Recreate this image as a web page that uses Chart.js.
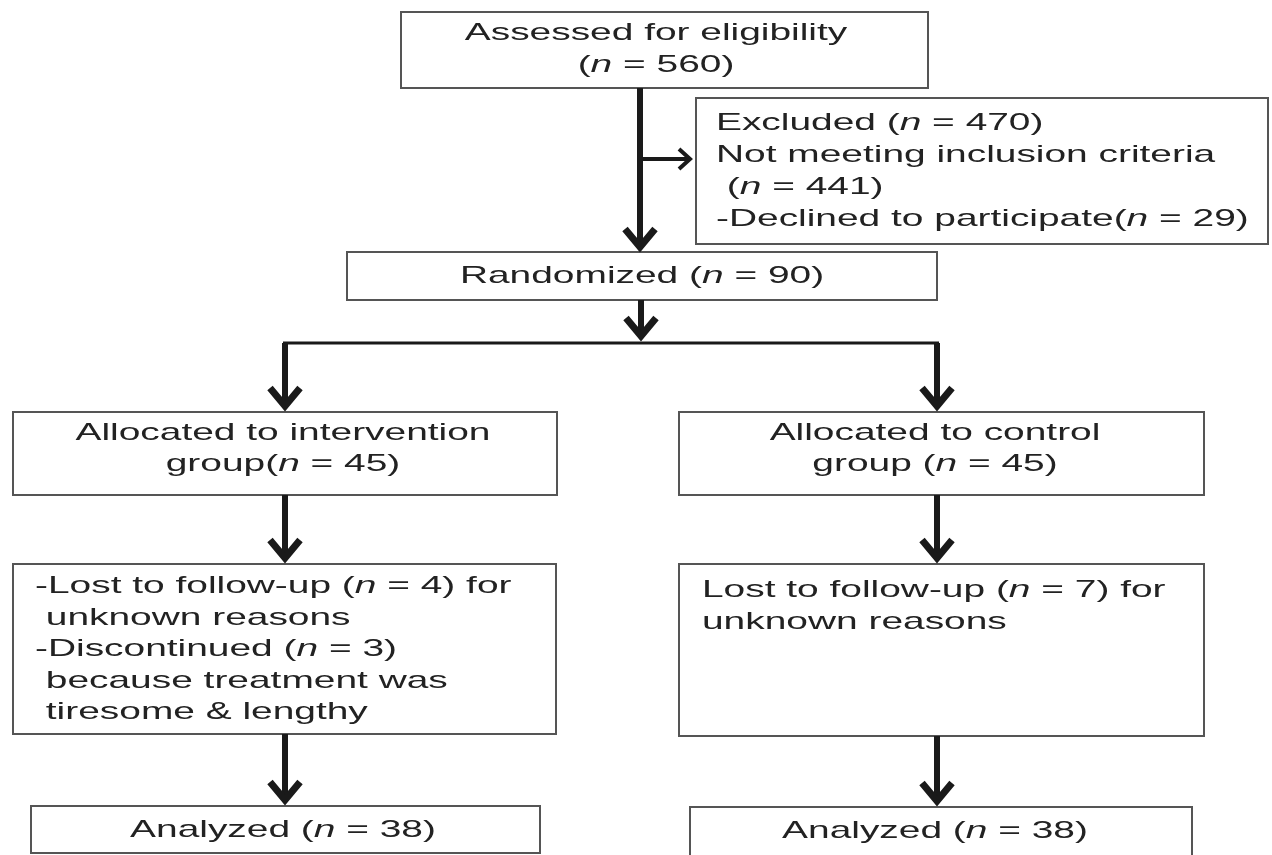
<!DOCTYPE html>
<html lang="en">
<head>
  <meta charset="UTF-8" />
  <title>Participant flow diagram</title>
  <script src="https://cdn.jsdelivr.net/npm/chart.js"></script>
  <style>
    html, body { margin: 0; padding: 0; background: #fff; }
    #flow { display: block; }
  </style>
</head>
<body>
  <canvas id="flow" width="1272" height="855"></canvas>

  <script>
    // --- data: participant counts at each stage ---
    const assessed = 560;
    const excluded = [470, 441, 29];          // total, not meeting criteria, declined
    const randomized = 90;
    const allocated = [45, 45];               // intervention, control
    const lostIntervention = [4, 3];          // lost to follow-up, discontinued
    const lostControl = [7];
    const analyzed = [38, 38];

    // text of every box, one array of lines per box
    const boxText = [
      ['Assessed for eligibility', `(n = ${assessed})`],
      [`Excluded (n = ${excluded[0]})`, 'Not meeting inclusion criteria', ` (n = ${excluded[1]})`, `-Declined to participate(n = ${excluded[2]})`],
      [`Randomized (n = ${randomized})`],
      ['Allocated to intervention', `group(n = ${allocated[0]})`],
      ['Allocated to control', `group (n = ${allocated[1]})`],
      [`-Lost to follow-up (n = ${lostIntervention[0]}) for`, ' unknown reasons', `-Discontinued (n = ${lostIntervention[1]})`, ' because treatment was', ' tiresome & lengthy'],
      [`Lost to follow-up (n = ${lostControl[0]}) for`, 'unknown reasons'],
      [`Analyzed (n = ${analyzed[0]})`],
      [`Analyzed (n = ${analyzed[1]})`]
    ];

    // --- layout (axis units = page pixels) ---
    const boxLayout = [
      { x0: 401, x1: 928,  y0: 12,  y1: 88,  align: 'center', tx: 656, ty: 40,  gap: 32 },
      { x0: 696, x1: 1268, y0: 98,  y1: 244, align: 'left',   tx: 716, ty: 130, gap: 32 },
      { x0: 347, x1: 937,  y0: 252, y1: 300, align: 'center', tx: 642, ty: 283, gap: 32 },
      { x0: 13,  x1: 557,  y0: 412, y1: 495, align: 'center', tx: 283, ty: 440, gap: 31 },
      { x0: 679, x1: 1204, y0: 412, y1: 495, align: 'center', tx: 935, ty: 440, gap: 31 },
      { x0: 13,  x1: 556,  y0: 564, y1: 734, align: 'left',   tx: 35,  ty: 593, gap: 31.5 },
      { x0: 679, x1: 1204, y0: 564, y1: 736, align: 'left',   tx: 702, ty: 597, gap: 31.5 },
      { x0: 31,  x1: 540,  y0: 806, y1: 853, align: 'center', tx: 283, ty: 837, gap: 32 },
      { x0: 690, x1: 1192, y0: 807, y1: 870, align: 'center', tx: 935, ty: 838, gap: 32 }
    ];

    const connectors = [
      { from: [283, 343], to: [939, 343], w: 3 }
    ];

    const arrows = [
      { from: [640, 88],  to: [640, 251], w: 6, head: 'big' },
      { from: [640, 159], to: [694, 159], w: 4, head: 'small' },
      { from: [641, 300], to: [641, 340], w: 6, head: 'big' },
      { from: [285, 343], to: [285, 410], w: 6, head: 'big' },
      { from: [937, 343], to: [937, 410], w: 6, head: 'big' },
      { from: [285, 495], to: [285, 562], w: 6, head: 'big' },
      { from: [937, 495], to: [937, 562], w: 6, head: 'big' },
      { from: [285, 734], to: [285, 804], w: 6, head: 'big' },
      { from: [937, 736], to: [937, 805], w: 6, head: 'big' }
    ];

    const FONT_SIZE = 24;
    const FONT_FAMILY = '"Liberation Sans", Arial, sans-serif';
    const STRETCH = 1.62;   // the original lettering is wide
    const TEXT_COLOR = '#222';
    const BOX_COLOR = '#555';

    // split a line so that the "n" after "(" is italic
    function segments(line) {
      const parts = [];
      const bits = line.split('(n');
      bits.forEach((b, i) => {
        if (i > 0) {
          parts.push({ t: '(', it: false });
          parts.push({ t: 'n', it: true });
        }
        if (b) parts.push({ t: b, it: false });
      });
      return parts;
    }

    function fontFor(it) {
      return (it ? 'italic ' : '') + FONT_SIZE + 'px ' + FONT_FAMILY;
    }

    function drawLine(ctx, line, x, y, align) {
      const segs = segments(line);
      let w = 0;
      segs.forEach(s => { ctx.font = fontFor(s.it); s.w = ctx.measureText(s.t).width; w += s.w; });
      const start = align === 'center' ? x - (w * STRETCH) / 2 : x;
      ctx.save();
      ctx.translate(start, y);
      ctx.scale(STRETCH, 1);
      let cx = 0;
      segs.forEach(s => {
        ctx.font = fontFor(s.it);
        ctx.fillText(s.t, cx, 0);
        cx += s.w;
      });
      ctx.restore();
    }

    function drawArrow(ctx, x1, y1, x2, y2, w, head) {
      const len = head === 'big' ? 19 : 12;
      const half = head === 'big' ? 15 : 10;
      const dx = x2 - x1, dy = y2 - y1;
      const d = Math.hypot(dx, dy);
      const ux = dx / d, uy = dy / d;
      ctx.lineWidth = w;
      ctx.lineCap = 'butt';
      ctx.beginPath();
      ctx.moveTo(x1, y1);
      ctx.lineTo(x2 - ux * 4, y2 - uy * 4);
      ctx.stroke();
      const bx = x2 - ux * (len + 3), by = y2 - uy * (len + 3);
      ctx.lineWidth = head === 'big' ? 7 : 4;
      ctx.lineJoin = 'miter';
      ctx.beginPath();
      ctx.moveTo(bx - uy * half, by + ux * half);
      ctx.lineTo(x2 - ux * 4, y2 - uy * 4);
      ctx.lineTo(bx + uy * half, by - ux * half);
      ctx.stroke();
    }

    const flowPlugin = {
      id: 'flowDiagram',
      afterDraw(chart) {
        const ctx = chart.ctx;
        const sx = v => chart.scales.x.getPixelForValue(v);
        const sy = v => chart.scales.y.getPixelForValue(v);
        ctx.save();

        // boxes
        boxLayout.forEach((b, i) => {
          const x0 = sx(b.x0), x1 = sx(b.x1), y0 = sy(b.y0), y1 = sy(b.y1);
          ctx.fillStyle = '#fff';
          ctx.fillRect(x0, y0, x1 - x0, y1 - y0);
          ctx.strokeStyle = BOX_COLOR;
          ctx.lineWidth = 2;
          ctx.strokeRect(x0, y0, x1 - x0, y1 - y0);
          ctx.fillStyle = TEXT_COLOR;
          ctx.textBaseline = 'alphabetic';
          ctx.textAlign = 'left';
          boxText[i].forEach((line, k) => {
            drawLine(ctx, line, sx(b.tx), sy(b.ty + k * b.gap), b.align);
          });
        });

        // connectors and arrows
        ctx.strokeStyle = '#1a1a1a';
        connectors.forEach(c => {
          ctx.lineWidth = c.w;
          ctx.beginPath();
          ctx.moveTo(sx(c.from[0]), sy(c.from[1]));
          ctx.lineTo(sx(c.to[0]), sy(c.to[1]));
          ctx.stroke();
        });
        arrows.forEach(a => {
          drawArrow(ctx, sx(a.from[0]), sy(a.from[1]), sx(a.to[0]), sy(a.to[1]), a.w, a.head);
        });

        ctx.restore();
      }
    };

    new Chart(document.getElementById('flow'), {
      type: 'scatter',
      data: { datasets: [{ data: [], pointRadius: 0 }] },
      options: {
        responsive: false,
        animation: false,
        layout: { padding: 0 },
        plugins: { legend: { display: false }, tooltip: { enabled: false } },
        scales: {
          x: { type: 'linear', min: 0, max: 1272, display: false },
          y: { type: 'linear', min: 0, max: 855, reverse: true, display: false }
        }
      },
      plugins: [flowPlugin]
    });
  </script>
</body>
</html>
